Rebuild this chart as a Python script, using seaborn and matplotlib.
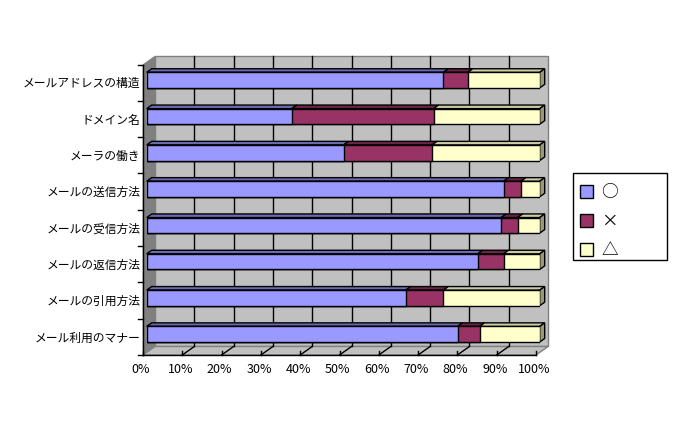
import numpy as np
import pandas as pd
import matplotlib
matplotlib.use("Agg")
import matplotlib.pyplot as plt
import seaborn as sns
from matplotlib.patches import Polygon, Rectangle, Patch

# ---------------- data ----------------
categories = ["メールアドレスの構造", "ドメイン名", "メーラの働き", "メールの送信方法",
              "メールの受信方法", "メールの返信方法", "メールの引用方法", "メール利用のマナー"]
maru = [75.5, 36.9, 50.1, 90.8, 90.2, 84.2, 65.9, 79.1]      # ○
batsu = [6.2, 36.1, 22.5, 4.4, 4.2, 6.6, 9.6, 5.6]          # ×
sankaku = [18.3, 27.0, 27.4, 4.8, 5.6, 9.2, 24.5, 15.3]     # △
series_labels = ["○", "×", "△"]
xtick_values = [0, 10, 20, 30, 40, 50, 60, 70, 80, 90, 100]
xtick_labels = ["0%", "10%", "20%", "30%", "40%", "50%", "60%", "70%", "80%", "90%", "100%"]

# ---------------- style ----------------
BLUE, RED, YELLOW = "#9999FF", "#993366", "#FFFFCC"
WALL, SIDE, EDGE = "#C0C0C0", "#808080", "#808080"

def shade(c, f):
    r, g, b = matplotlib.colors.to_rgb(c)
    return (r * f, g * f, b * f)

plt.rcParams["font.family"] = ["Noto Sans CJK JP", "DejaVu Sans"]

W, H = 677, 434
fig = plt.figure(figsize=(W / 100, H / 100), dpi=100)
fig.patch.set_facecolor("white")

# bar (front-face) plane geometry in pixels
X0, XSPAN = 146.7, 393.0
YTOP, YSPAN = 62.0, 290.4
ax = fig.add_axes([X0 / W, 1 - (YTOP + YSPAN) / H, XSPAN / W, YSPAN / H])
ncat = len(categories)

def off(dxp, dyp):
    """pixel offset -> data offset (y axis is inverted)"""
    return dxp * 100 / XSPAN, dyp * ncat / YSPAN

fdx, fdy = off(-3.7, 2.6)    # front plane of the box
bdx, bdy = off(8.3, -5.9)    # back wall
bx, by = off(5.0, -3.6)      # bar depth

df = pd.DataFrame({"cat": categories, "maru": maru, "batsu": batsu, "sankaku": sankaku})
df["c2"] = df["maru"] + df["batsu"]
df["c3"] = df["c2"] + df["sankaku"]

BW = 0.43
for col, colr in [("c3", YELLOW), ("c2", RED), ("maru", BLUE)]:
    sns.barplot(data=df, x=col, y="cat", orient="h", color=colr, saturation=1,
                width=BW, edgecolor="black", linewidth=1, ax=ax, zorder=5)

ax.set_xlim(0, 100)
ax.set_ylim(ncat - 0.5, -0.5)
ax.axis("off")

ytop_f, ybot_f = -0.5 + fdy, ncat - 0.5 + fdy
ytop_b, ybot_b = -0.5 + bdy, ncat - 0.5 + bdy

# back wall
ax.add_patch(Rectangle((bdx, ytop_b), 100, ybot_b - ytop_b, facecolor=WALL,
                       edgecolor=EDGE, linewidth=1, zorder=1, clip_on=False))
for v in xtick_values[1:-1]:
    ax.plot([v + bdx, v + bdx], [ytop_b, ybot_b], color="black", lw=1, zorder=2, clip_on=False)
# left side wall
ax.add_patch(Polygon([(fdx, ytop_f), (bdx, ytop_b), (bdx, ybot_b), (fdx, ybot_f)],
                     closed=True, facecolor=SIDE, edgecolor=SIDE, lw=0.5, zorder=1.5, clip_on=False))
# floor
ax.add_patch(Polygon([(fdx, ybot_f), (bdx, ybot_b), (100 + bdx, ybot_b), (100 + fdx, ybot_f)],
                     closed=True, facecolor=WALL, edgecolor=EDGE, lw=1, zorder=1.5, clip_on=False))
for v in xtick_values[1:-1]:
    ax.plot([v + bdx, v + fdx], [ybot_b, ybot_f], color="black", lw=1, zorder=2, clip_on=False)
_, tk = off(0, -4)
for v in xtick_values:
    ax.plot([v + fdx, v + fdx], [ybot_f, ybot_f + tk], color="black", lw=1, zorder=2, clip_on=False)
# front axis lines
ax.plot([fdx, 100 + fdx], [ybot_f, ybot_f], color="black", lw=1, zorder=3, clip_on=False)
ax.plot([fdx, fdx], [ytop_f, ybot_f], color="black", lw=1, zorder=3, clip_on=False)
tkx, _ = off(-5, 0)
for k in range(ncat + 1):
    ax.plot([fdx + tkx, fdx], [k - 0.5 + fdy, k - 0.5 + fdy], color="black", lw=1, zorder=3, clip_on=False)

# 3D faces of the bars
starts = np.column_stack([np.zeros(ncat), df["maru"], df["c2"]])
ends = np.column_stack([df["maru"], df["c2"], df["c3"]])
cols = [BLUE, RED, YELLOW]
top_f = [0.7, 0.7, 0.8]
for i in range(ncat):
    yt, yb = i - BW / 2, i + BW / 2
    for j in range(3):
        s, e = starts[i, j], ends[i, j]
        ax.add_patch(Polygon([(s, yt), (e, yt), (e + bx, yt + by), (s + bx, yt + by)], closed=True,
                             facecolor=shade(cols[j], top_f[j]), edgecolor="black", lw=1, zorder=4, clip_on=False))
    e = ends[i, 2]
    ax.add_patch(Polygon([(e, yt), (e + bx, yt + by), (e + bx, yb + by), (e, yb)], closed=True,
                         facecolor=shade(YELLOW, 0.6), edgecolor="black", lw=1, zorder=4, clip_on=False))

# category labels
lx, ly = off(-2.5, 1.0)
for i, c in enumerate(categories):
    ax.text(fdx + lx, i + fdy + ly, c, ha="right", va="center", fontsize=8.5, color="black")
# x labels
ox, oy = off(-2, 15)
for v, t in zip(xtick_values, xtick_labels):
    ax.text(v + fdx + ox, ybot_f + oy, t, ha="center", va="center", fontsize=9, color="black")

# legend
fig.add_artist(Rectangle((573 / W, 1 - 260 / H), 94 / W, 87 / H, transform=fig.transFigure,
                         facecolor="white", edgecolor="black", linewidth=1, zorder=-1))
handles = [Patch(facecolor=c, edgecolor="black", linewidth=1) for c in cols]
leg = ax.legend(handles=handles, labels=series_labels, loc="upper left",
                bbox_to_anchor=(571.5 / W, 1 - 176 / H), bbox_transform=fig.transFigure,
                frameon=False, fontsize=12, handlelength=0.8, handleheight=0.8,
                handletextpad=0.5, borderpad=0.5, labelspacing=0.72, borderaxespad=0)
leg.set_zorder(4)

fig.savefig("out.png", dpi=100)
